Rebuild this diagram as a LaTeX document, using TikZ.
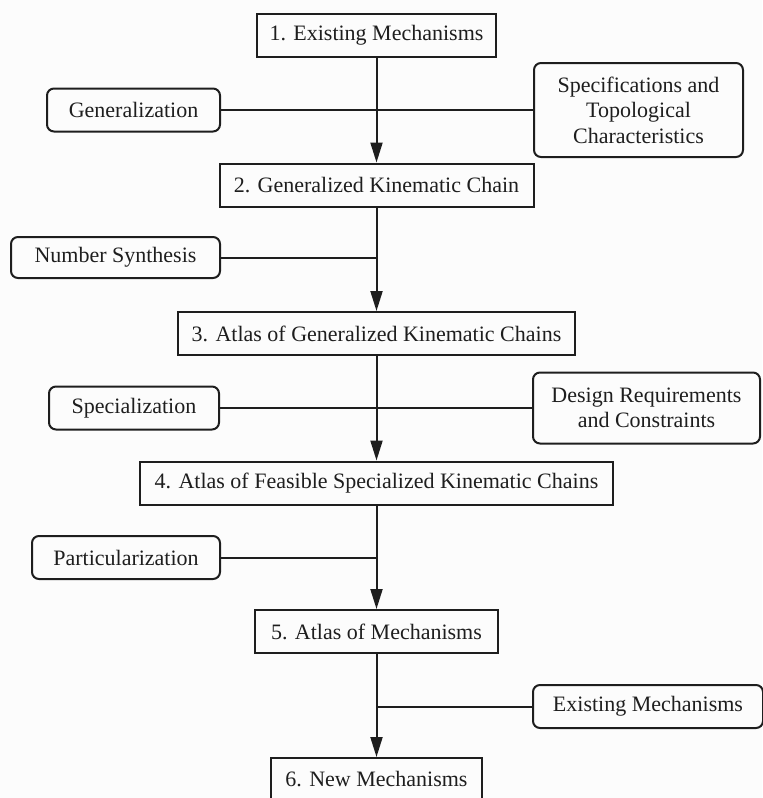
\documentclass[tikz,border=0pt]{standalone}
\usepackage{fontspec}
\setmainfont{Liberation Serif}
\usepackage{xcolor}
\usetikzlibrary{arrows.meta,positioning}
\definecolor{ink}{HTML}{1E1E1E}
\definecolor{paper}{HTML}{FCFCFC}

\begin{document}
\begin{tikzpicture}[
  x=0.5pt, y=-0.5pt,
  stage/.style={rectangle, draw=ink, line width=1pt, text=ink,
    minimum width=#1, minimum height=21.5pt, inner sep=0pt,
    font=\fontsize{11}{12.8}\selectfont},
  oper/.style={rectangle, rounded corners=3.5pt, draw=ink, line width=1pt,
    text=ink, minimum width=#1, minimum height=21.5pt, inner sep=0pt,
    align=center, font=\fontsize{11}{12.8}\selectfont},
  link/.style={draw=ink, line width=1pt},
  >={Triangle[length=10pt,width=6pt]}
]
\fill[paper] (0,0) rectangle (762,798);
\useasboundingbox (0,0) rectangle (762,798);

\node[stage=119.5pt] (S1) at (376.5,35.5) {1. Existing Mechanisms};
\node[stage=157pt]   (S2) at (376.5,185) {2. Generalized Kinematic Chain};
\node[stage=198.5pt] (S3) at (376.5,333.5) {3. Atlas of Generalized Kinematic Chains};
\node[stage=236.5pt] (S4) at (376.5,483) {4. Atlas of Feasible Specialized Kinematic Chains};
\node[stage=121.5pt] (S5) at (376.5,631.5) {5. Atlas of Mechanisms};
\node[stage=105.5pt] (S6) at (376.5,779.5) {6. New Mechanisms};

\node[oper=86.5pt] (gen) at (133.5,110) {Generalization};
\node[oper=104.5pt, minimum height=47pt] (spec) at (638.5,110)
  {Specifications and\\Topological\\Characteristics};
\node[oper=104.5pt, minimum height=20.5pt] (nsyn) at (115.5,257.5) {Number Synthesis};
\node[oper=85pt] (specl) at (134,408) {Specialization};
\node[oper=113.5pt, minimum height=35.5pt] (design) at (646.5,408)
  {Design Requirements\\and Constraints};
\node[oper=94pt] (part) at (126,557.5) {Particularization};
\node[oper=115pt] (exist) at (648,706.5) {Existing Mechanisms};

\foreach \a/\b in {S1/S2,S2/S3,S3/S4,S4/S5,S5/S6}
  \draw[link,->] (\a) -- (\b);

\draw[link] (gen.east) -- (spec.west);
\draw[link] (nsyn.east) -- (nsyn.east -| S2.south);
\draw[link] (specl.east) -- (design.west);
\draw[link] (part.east) -- (part.east -| S4.south);
\draw[link] (exist.west) -- (exist.west -| S5.south);
\end{tikzpicture}
\end{document}
